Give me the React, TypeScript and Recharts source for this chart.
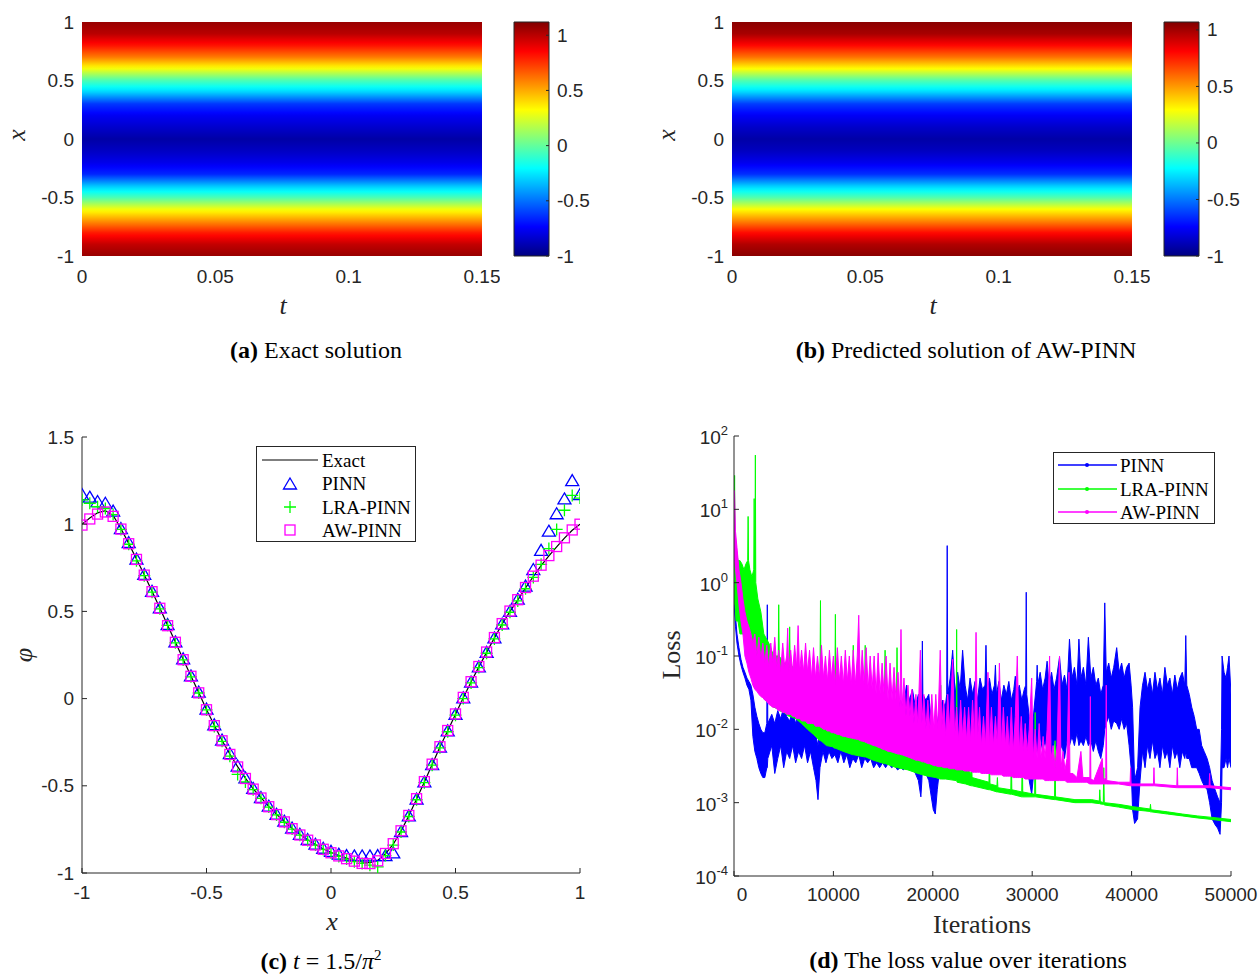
import React from 'react';
import { ComposedChart, Line, Area, XAxis, YAxis, ReferenceArea } from 'recharts';

// (a), (b): u(t, x) is practically constant along t, so one profile over x per map
const hmX = [1, 0.9, 0.8, 0.7, 0.6, 0.5, 0.4, 0.3, 0.2, 0.1, 0, -0.1, -0.2, -0.3, -0.4, -0.5, -0.6, -0.7, -0.8, -0.9, -1];
const exactU = [1.07, 1.0, 0.82, 0.6, 0.3, -0.05, -0.3, -0.62, -0.76, -0.84, -0.92, -0.86, -0.78, -0.66, -0.33, -0.05, 0.3, 0.55, 0.8, 0.98, 1.07];
const awU = [1.05, 0.99, 0.8, 0.58, 0.29, -0.06, -0.31, -0.62, -0.76, -0.85, -0.92, -0.87, -0.78, -0.65, -0.33, -0.06, 0.29, 0.54, 0.79, 0.97, 1.05];
const tTicks = [0, 0.05, 0.1, 0.15];
const xTicks = [-1, -0.5, 0, 0.5, 1];
const cbTicks = [-1, -0.5, 0, 0.5, 1];

// (c): slice at t = 1.5/pi^2
const xs = [-1, -0.96875, -0.9375, -0.90625, -0.875, -0.84375, -0.8125, -0.78125, -0.75, -0.71875, -0.6875, -0.65625, -0.625, -0.59375, -0.5625, -0.53125, -0.5, -0.46875, -0.4375, -0.40625, -0.375, -0.34375, -0.3125, -0.28125, -0.25, -0.21875, -0.1875, -0.15625, -0.125, -0.09375, -0.0625, -0.03125, 0, 0.03125, 0.0625, 0.09375, 0.125, 0.15625, 0.1875, 0.21875, 0.25, 0.28125, 0.3125, 0.34375, 0.375, 0.40625, 0.4375, 0.46875, 0.5, 0.53125, 0.5625, 0.59375, 0.625, 0.65625, 0.6875, 0.71875, 0.75, 0.78125, 0.8125, 0.84375, 0.875, 0.90625, 0.9375, 0.96875, 1];
const exact = [1.0, 1.036, 1.065, 1.078, 1.05, 0.975, 0.89, 0.8, 0.71, 0.615, 0.52, 0.42, 0.325, 0.225, 0.13, 0.035, -0.062, -0.153, -0.24, -0.318, -0.39, -0.456, -0.517, -0.568, -0.618, -0.663, -0.705, -0.744, -0.78, -0.81, -0.837, -0.862, -0.882, -0.9, -0.915, -0.928, -0.937, -0.94, -0.928, -0.89, -0.835, -0.76, -0.672, -0.576, -0.478, -0.378, -0.278, -0.185, -0.09, 0.005, 0.095, 0.182, 0.265, 0.348, 0.428, 0.5, 0.565, 0.635, 0.7, 0.763, 0.818, 0.87, 0.92, 0.965, 1.0];
const pinn = [1.17, 1.155, 1.13, 1.12, 1.075, 0.975, 0.895, 0.8, 0.712, 0.615, 0.52, 0.425, 0.325, 0.228, 0.13, 0.037, -0.06, -0.15, -0.238, -0.315, -0.387, -0.455, -0.515, -0.567, -0.617, -0.663, -0.703, -0.742, -0.778, -0.808, -0.835, -0.858, -0.876, -0.892, -0.9, -0.902, -0.902, -0.902, -0.9, -0.9, -0.885, -0.762, -0.672, -0.576, -0.478, -0.378, -0.278, -0.185, -0.09, 0.005, 0.095, 0.182, 0.265, 0.348, 0.428, 0.5, 0.57, 0.645, 0.74, 0.85, 0.96, 1.06, 1.145, 1.25, 1.17];
const lra = [1.14, 1.12, 1.1, 1.09, 1.055, 0.97, 0.885, 0.79, 0.705, 0.61, 0.515, 0.42, 0.32, 0.222, 0.125, 0.032, -0.065, -0.16, -0.245, -0.33, -0.435, -0.478, -0.522, -0.572, -0.622, -0.667, -0.709, -0.748, -0.783, -0.813, -0.84, -0.865, -0.885, -0.905, -0.92, -0.935, -0.945, -0.955, -0.965, -0.9, -0.84, -0.765, -0.676, -0.58, -0.482, -0.382, -0.282, -0.19, -0.095, 0.0, 0.09, 0.178, 0.26, 0.342, 0.422, 0.495, 0.56, 0.63, 0.695, 0.77, 0.86, 0.97, 1.08, 1.165, 1.15];
const aw = [0.995, 1.03, 1.058, 1.07, 1.045, 0.972, 0.888, 0.798, 0.708, 0.613, 0.518, 0.418, 0.323, 0.223, 0.128, 0.033, -0.064, -0.155, -0.242, -0.32, -0.392, -0.458, -0.519, -0.57, -0.62, -0.665, -0.707, -0.746, -0.782, -0.812, -0.839, -0.864, -0.884, -0.902, -0.918, -0.932, -0.945, -0.946, -0.93, -0.888, -0.832, -0.758, -0.67, -0.574, -0.476, -0.376, -0.276, -0.183, -0.088, 0.007, 0.097, 0.184, 0.267, 0.35, 0.43, 0.502, 0.567, 0.637, 0.702, 0.765, 0.82, 0.872, 0.922, 0.967, 1.0];
const phiTicks = [-1, -0.5, 0, 0.5, 1, 1.5];

// (d): the loss curves are too dense to see single steps, so each is kept as
// [iteration, lowest, highest] over short stretches (spikes included)
const pinnLoss = [[0, 0.55, 0.7], [150, 0.25, 0.35], [300, 0.15, 0.2], [500, 0.1, 0.13], [700, 0.075, 0.09], [900, 0.06, 0.07], [1100, 0.05, 0.06], [1300, 0.04, 0.05], [1500, 0.035, 0.045], [1700, 0.025, 0.04], [1900, 0.008, 0.03], [2100, 0.005, 0.02], [2300, 0.004, 0.015], [2500, 0.003, 0.012], [2700, 0.0025, 0.01], [2900, 0.0022, 0.009], [3100, 0.0022, 0.009], [3300, 0.003, 0.012], [3350, 0.003, 0.5], [3400, 0.004, 0.012],
  [3800, 0.006, 0.016], [4100, 0.0025, 0.012], [4400, 0.004, 0.018], [4700, 0.006, 0.014], [5000, 0.003, 0.02], [5300, 0.005, 0.015], [5600, 0.004, 0.013], [5900, 0.006, 0.018], [6200, 0.0035, 0.012], [6500, 0.005, 0.016], [6800, 0.004, 0.014], [7100, 0.006, 0.015], [7400, 0.0035, 0.013], [7700, 0.005, 0.012], [8000, 0.003, 0.01], [8250, 0.002, 0.008], [8450, 0.0011, 0.006], [8650, 0.003, 0.01],
  [8950, 0.005, 0.014], [9250, 0.0035, 0.012], [9550, 0.005, 0.015], [9850, 0.004, 0.011], [10150, 0.0045, 0.02], [10450, 0.0035, 0.013], [10750, 0.005, 0.016], [11050, 0.0035, 0.012], [11350, 0.0045, 0.014], [11650, 0.003, 0.011], [11950, 0.004, 0.015], [12250, 0.0035, 0.012], [12550, 0.0045, 0.014], [12850, 0.003, 0.011], [13150, 0.004, 0.013], [13450, 0.0035, 0.012], [13750, 0.004, 0.015], [14050, 0.003, 0.011], [14350, 0.0035, 0.014], [14650, 0.003, 0.012], [14950, 0.0035, 0.013], [15250, 0.003, 0.011], [15550, 0.0035, 0.014], [15850, 0.003, 0.012], [16150, 0.0032, 0.015], [16450, 0.0028, 0.018],
  [16750, 0.003, 0.025], [17050, 0.0028, 0.02], [17350, 0.0032, 0.04], [17650, 0.0028, 0.025], [17950, 0.003, 0.035], [18250, 0.0025, 0.02], [18550, 0.002, 0.03], [18800, 0.0012, 0.02], [18900, 0.002, 0.03], [18950, 0.003, 0.16], [19000, 0.003, 0.03], [19300, 0.0025, 0.025], [19600, 0.002, 0.03], [19850, 0.0012, 0.012], [20050, 0.0008, 0.008], [20250, 0.0007, 0.005], [20450, 0.0015, 0.012], [20700, 0.003, 0.02], [21000, 0.003, 0.025], [21250, 0.004, 0.02], [21400, 0.004, 0.03], [21450, 0.005, 3.2], [21500, 0.005, 0.03],
  [21750, 0.007, 0.05], [22000, 0.005, 0.12], [22250, 0.004, 0.03], [22500, 0.008, 0.06], [22750, 0.005, 0.035], [23000, 0.004, 0.12], [23250, 0.006, 0.04], [23500, 0.004, 0.025], [23750, 0.007, 0.05], [24000, 0.005, 0.03], [24250, 0.004, 0.045], [24500, 0.006, 0.025], [24750, 0.004, 0.05], [25000, 0.007, 0.035], [25250, 0.005, 0.04], [25350, 0.004, 0.14], [25450, 0.005, 0.03], [25700, 0.004, 0.05], [25950, 0.006, 0.03], [26200, 0.004, 0.04], [26300, 0.004, 0.075], [26400, 0.005, 0.03], [26650, 0.007, 0.045], [26900, 0.004, 0.025], [27150, 0.005, 0.04], [27400, 0.004, 0.03], [27650, 0.006, 0.045], [27900, 0.004, 0.025], [28150, 0.005, 0.035], [28300, 0.005, 0.053], [28450, 0.004, 0.03], [28700, 0.006, 0.04], [28950, 0.004, 0.025], [29200, 0.005, 0.035], [29350, 0.004, 0.04], [29400, 0.004, 0.74], [29450, 0.003, 0.03], [29700, 0.002, 0.015], [29950, 0.0013, 0.008], [30200, 0.003, 0.02],
  [30450, 0.006, 0.045], [30500, 0.005, 0.075], [30550, 0.005, 0.04], [30800, 0.008, 0.06], [31050, 0.005, 0.035], [31300, 0.007, 0.05], [31500, 0.005, 0.085], [31700, 0.006, 0.04], [31950, 0.004, 0.06], [32200, 0.007, 0.035], [32450, 0.005, 0.05], [32750, 0.005, 0.097], [33000, 0.006, 0.04], [33250, 0.004, 0.055], [33500, 0.007, 0.035], [33750, 0.006, 0.17], [34000, 0.008, 0.05], [34250, 0.006, 0.07], [34500, 0.009, 0.04], [34700, 0.006, 0.17], [34900, 0.007, 0.05], [35150, 0.006, 0.07], [35400, 0.008, 0.04], [35650, 0.006, 0.18], [35900, 0.007, 0.05], [36150, 0.005, 0.07], [36400, 0.007, 0.04], [36650, 0.005, 0.05], [36900, 0.004, 0.03], [37150, 0.006, 0.04], [37300, 0.01, 0.53], [37450, 0.012, 0.06],
  [37700, 0.015, 0.08], [37950, 0.01, 0.05], [38200, 0.013, 0.07], [38500, 0.012, 0.13], [38750, 0.01, 0.06], [39000, 0.014, 0.08], [39250, 0.01, 0.05], [39500, 0.012, 0.07], [39750, 0.006, 0.08], [39950, 0.003, 0.04], [40100, 0.0008, 0.02], [40300, 0.00052, 0.002], [40600, 0.0006, 0.003], [40850, 0.002, 0.02],
  [41100, 0.005, 0.04], [41350, 0.003, 0.06], [41600, 0.006, 0.035], [41850, 0.004, 0.05], [42100, 0.007, 0.03], [42350, 0.004, 0.06], [42600, 0.005, 0.035], [42850, 0.003, 0.05], [43100, 0.006, 0.03], [43350, 0.004, 0.07], [43600, 0.005, 0.04], [43850, 0.003, 0.05], [44100, 0.006, 0.03], [44350, 0.004, 0.055], [44600, 0.005, 0.035], [44850, 0.003, 0.05], [45100, 0.005, 0.06], [45350, 0.004, 0.04], [45450, 0.005, 0.19], [45550, 0.004, 0.04], [45800, 0.004, 0.03], [46050, 0.003, 0.02], [46300, 0.003, 0.015], [46550, 0.003, 0.01], [46800, 0.0025, 0.01], [47050, 0.002, 0.006], [47300, 0.0017, 0.005], [47600, 0.0015, 0.004], [47850, 0.001, 0.003], [48100, 0.0006, 0.002], [48400, 0.0005, 0.0015], [48650, 0.00045, 0.0012], [48900, 0.00037, 0.001], [49050, 0.001, 0.01], [49100, 0.003, 0.1], [49300, 0.003, 0.06], [49500, 0.004, 0.05], [49650, 0.003, 0.07], [49800, 0.004, 0.1], [50000, 0.003, 0.03]];
const lraLoss = [[0, 2, 5], [30, 1, 10], [60, 0.5, 29], [100, 0.5, 5], [200, 0.3, 3], [400, 0.3, 2], [600, 0.2, 2], [800, 0.2, 1.8], [1000, 0.2, 1.5], [1200, 0.15, 1.8], [1380, 0.15, 2], [1420, 0.15, 8], [1460, 0.15, 2], [1600, 0.12, 1.5], [1800, 0.1, 1.2], [1990, 0.1, 1.5], [2030, 0.1, 14], [2070, 0.1, 1.5], [2110, 0.1, 1.5], [2150, 0.1, 55], [2190, 0.1, 1], [2400, 0.06, 0.6], [2700, 0.035, 0.4], [3000, 0.026, 0.2], [3500, 0.023, 0.15], [4000, 0.02, 0.1], [4450, 0.019, 0.1], [4500, 0.019, 0.5], [4550, 0.018, 0.1], [5000, 0.017, 0.08], [5550, 0.015, 0.08], [5600, 0.015, 0.25], [5650, 0.015, 0.08], [6200, 0.014, 0.06], [6800, 0.012, 0.05], [7400, 0.01, 0.05], [8000, 0.0085, 0.05], [8650, 0.007, 0.05], [8700, 0.007, 0.57], [8750, 0.007, 0.05], [9300, 0.006, 0.04], [9900, 0.0058, 0.04], [10150, 0.0055, 0.04], [10200, 0.0055, 0.37], [10250, 0.0055, 0.04], [11000, 0.005, 0.03], [11950, 0.0045, 0.03], [12000, 0.0045, 0.14], [12050, 0.0045, 0.03], [13150, 0.0042, 0.03], [13200, 0.0042, 0.14], [13250, 0.0042, 0.03], [14000, 0.0038, 0.03], [15150, 0.0034, 0.03], [15200, 0.0034, 0.12], [15250, 0.0034, 0.02], [16350, 0.003, 0.02], [16400, 0.003, 0.13], [16450, 0.003, 0.02], [17500, 0.0028, 0.015], [18500, 0.0025, 0.01], [19500, 0.0023, 0.01], [20300, 0.0022, 0.008], [20750, 0.0021, 0.008], [20800, 0.0021, 0.04], [20850, 0.0021, 0.006], [21300, 0.0021, 0.006], [22350, 0.002, 0.004], [22400, 0.002, 0.23], [22450, 0.0019, 0.004], [23300, 0.0018, 0.003], [23850, 0.0017, 0.0025], [23900, 0.0017, 0.004], [23950, 0.0017, 0.0022], [25650, 0.0015, 0.0019], [25700, 0.0015, 0.005], [25750, 0.0015, 0.0018], [26450, 0.0014, 0.0017], [26500, 0.0014, 0.0022], [26550, 0.0014, 0.0016], [27850, 0.0013, 0.0015], [27900, 0.0013, 0.0055], [27950, 0.0013, 0.0015], [28950, 0.0012, 0.0014], [29000, 0.0012, 0.005], [29050, 0.0012, 0.0014], [30250, 0.0012, 0.0013], [30300, 0.0012, 0.017], [30350, 0.0012, 0.0013], [32250, 0.0011, 0.0012], [32300, 0.0011, 0.007], [32350, 0.0011, 0.0012], [34300, 0.001, 0.0011], [36000, 0.001, 0.0011], [36750, 0.00097, 0.00105], [36800, 0.00097, 0.0015], [36850, 0.00096, 0.00104], [37150, 0.00095, 0.001], [37200, 0.00095, 0.003], [37250, 0.00093, 0.001], [38700, 0.00087, 0.00095], [40200, 0.0008, 0.00088], [41850, 0.00076, 0.00082], [41900, 0.00075, 0.00095], [41950, 0.00075, 0.0008], [43600, 0.0007, 0.00075], [45100, 0.00066, 0.0007], [46600, 0.00062, 0.00066], [48100, 0.00059, 0.00063], [50000, 0.00055, 0.00059]];
const awLoss = [[0, 2, 5], [50, 2, 18], [150, 1.5, 5], [300, 1, 3], [500, 0.5, 1.5], [700, 0.3, 1], [900, 0.2, 0.6], [1100, 0.1, 0.4], [1300, 0.08, 0.3], [1500, 0.06, 0.25], [1700, 0.05, 0.2], [1900, 0.04, 0.15], [2100, 0.035, 0.2], [2300, 0.033, 0.1], [2500, 0.03, 0.18], [2700, 0.028, 0.09], [2900, 0.027, 0.15], [3100, 0.025, 0.08], [3300, 0.024, 0.14], [3500, 0.022, 0.07], [3700, 0.021, 0.15], [3900, 0.02, 0.08], [4100, 0.02, 0.18], [4300, 0.019, 0.07], [4500, 0.018, 0.12], [4700, 0.018, 0.06], [4900, 0.017, 0.15], [5100, 0.017, 0.07], [5300, 0.016, 0.1], [5400, 0.016, 0.24], [5500, 0.016, 0.06], [5700, 0.016, 0.12], [5900, 0.015, 0.06], [6100, 0.015, 0.14], [6300, 0.014, 0.07], [6450, 0.014, 0.26], [6600, 0.014, 0.06], [6800, 0.013, 0.12], [7000, 0.013, 0.06], [7200, 0.013, 0.15], [7400, 0.012, 0.06], [7600, 0.012, 0.12], [7800, 0.012, 0.05], [8000, 0.012, 0.13], [8200, 0.011, 0.05], [8400, 0.011, 0.1], [8600, 0.011, 0.05], [8800, 0.0105, 0.14], [9000, 0.01, 0.05], [9200, 0.01, 0.1], [9400, 0.0095, 0.045], [9600, 0.0095, 0.12], [9800, 0.009, 0.05], [10000, 0.009, 0.1], [10200, 0.0088, 0.04], [10400, 0.0085, 0.13], [10600, 0.0085, 0.045], [10800, 0.0082, 0.1], [11000, 0.008, 0.04], [11200, 0.008, 0.12], [11400, 0.0078, 0.045], [11600, 0.0077, 0.1], [11800, 0.0076, 0.04], [12000, 0.0075, 0.12], [12200, 0.0074, 0.04], [12400, 0.0073, 0.1], [12550, 0.0072, 0.36], [12700, 0.007, 0.04], [12900, 0.0069, 0.12], [13100, 0.0068, 0.04], [13300, 0.0066, 0.13], [13500, 0.0064, 0.035], [13700, 0.0063, 0.1], [13900, 0.0061, 0.035], [14100, 0.006, 0.1], [14300, 0.0059, 0.03], [14500, 0.0057, 0.11], [14700, 0.0056, 0.03], [14900, 0.0054, 0.08], [15100, 0.0053, 0.03], [15300, 0.0052, 0.1], [15500, 0.005, 0.025], [15700, 0.005, 0.08], [15900, 0.0049, 0.025], [16100, 0.0048, 0.07], [16300, 0.0047, 0.025], [16500, 0.0046, 0.06], [16700, 0.0046, 0.02], [16800, 0.0045, 0.23], [16900, 0.0045, 0.02], [17100, 0.0044, 0.05], [17300, 0.0043, 0.015], [17500, 0.0042, 0.04], [17700, 0.0041, 0.015], [17900, 0.004, 0.035], [18100, 0.0039, 0.012], [18300, 0.0038, 0.03], [18500, 0.0038, 0.012], [18750, 0.0037, 0.12], [18900, 0.0036, 0.012], [19100, 0.0036, 0.03], [19300, 0.0035, 0.01], [19500, 0.0034, 0.025], [19700, 0.0034, 0.01], [19900, 0.0033, 0.03], [20100, 0.0032, 0.01], [20300, 0.0032, 0.03], [20500, 0.0031, 0.01], [20750, 0.0031, 0.12], [20900, 0.0031, 0.01], [21100, 0.003, 0.025], [21300, 0.003, 0.008], [21500, 0.003, 0.03], [21700, 0.0029, 0.01], [22000, 0.0029, 0.09], [22200, 0.0029, 0.008], [22400, 0.0028, 0.02], [22600, 0.0028, 0.007], [22800, 0.0028, 0.025], [23000, 0.0028, 0.008], [23200, 0.0027, 0.02], [23400, 0.0027, 0.007], [23600, 0.0027, 0.02], [23800, 0.0027, 0.007], [24000, 0.0026, 0.025], [24200, 0.0026, 0.007], [24350, 0.0026, 0.21], [24500, 0.0026, 0.007], [24700, 0.0026, 0.02], [24900, 0.0025, 0.006], [25100, 0.0025, 0.015], [25300, 0.0025, 0.006], [25550, 0.0025, 0.06], [25700, 0.0025, 0.006], [25900, 0.0024, 0.02], [26100, 0.0024, 0.006], [26300, 0.0024, 0.015], [26500, 0.0024, 0.006], [26700, 0.0024, 0.08], [26900, 0.0024, 0.006], [27100, 0.0023, 0.02], [27300, 0.0023, 0.006], [27500, 0.0023, 0.015], [27700, 0.0023, 0.005], [27900, 0.0023, 0.02], [28100, 0.0022, 0.005], [28300, 0.0022, 0.015], [28500, 0.0022, 0.1], [28700, 0.0022, 0.005], [28900, 0.0022, 0.015], [29100, 0.0022, 0.005], [29300, 0.0021, 0.012], [29500, 0.0021, 0.005], [29700, 0.0021, 0.01], [29950, 0.0021, 0.05], [30100, 0.0021, 0.004], [30300, 0.0021, 0.01], [30500, 0.0021, 0.004], [30700, 0.0021, 0.012], [30900, 0.0021, 0.004], [31100, 0.0021, 0.008], [31300, 0.002, 0.004], [31500, 0.002, 0.01], [31750, 0.002, 0.1], [31900, 0.002, 0.004], [32100, 0.002, 0.006], [32300, 0.002, 0.003], [32500, 0.002, 0.006], [32750, 0.002, 0.1], [32900, 0.002, 0.003], [33100, 0.002, 0.005], [33300, 0.002, 0.0028], [33500, 0.0019, 0.004], [33700, 0.0019, 0.06], [33800, 0.0019, 0.0025], [34100, 0.0019, 0.0025], [34500, 0.0019, 0.0022], [34900, 0.0019, 0.005], [35100, 0.0019, 0.0022], [35500, 0.0019, 0.0022], [35800, 0.0018, 0.0022], [35850, 0.0018, 0.028], [35900, 0.0018, 0.0021], [36200, 0.0018, 0.002], [37050, 0.0018, 0.004], [37150, 0.0018, 0.002], [37400, 0.0018, 0.0022], [37450, 0.0018, 0.04], [37500, 0.0018, 0.002], [38700, 0.0018, 0.0019], [39850, 0.0017, 0.0019], [39900, 0.0017, 0.003], [39950, 0.0017, 0.0018], [42200, 0.0017, 0.0018], [42250, 0.0017, 0.003], [42300, 0.0017, 0.0018], [44550, 0.0016, 0.0017], [44600, 0.0016, 0.003], [44650, 0.0016, 0.0017], [47800, 0.0016, 0.0017], [47850, 0.0016, 0.0025], [47900, 0.0016, 0.0017], [50000, 0.0015, 0.0016]];
const iterTicks = [0, 10000, 20000, 30000, 40000, 50000];
const decTicks = [1e-4, 1e-3, 1e-2, 1e-1, 1, 10, 100];
const minorTicks = [2e-4, 3e-4, 4e-4, 5e-4, 6e-4, 7e-4, 8e-4, 9e-4, 2e-3, 3e-3, 4e-3, 5e-3, 6e-3, 7e-3, 8e-3, 9e-3, 2e-2, 3e-2, 4e-2, 5e-2, 6e-2, 7e-2, 8e-2, 9e-2, 0.2, 0.3, 0.4, 0.5, 0.6, 0.7, 0.8, 0.9, 2, 3, 4, 5, 6, 7, 8, 9, 20, 30, 40, 50, 60, 70, 80, 90];

const AX = '#262626';
const SANS = '"Liberation Sans", Arial, sans-serif';
const SERIF = '"Liberation Serif", "Times New Roman", serif';
const BLUE = '#0000ff';
const GREEN = '#00ff00';
const MAGENTA = '#ff00ff';

const jet = (f: number) => {
  const c = (v: number) => Math.round(255 * Math.max(0, Math.min(1, v)));
  return `rgb(${c(1.5 - Math.abs(4 * f - 3))},${c(1.5 - Math.abs(4 * f - 2))},${c(1.5 - Math.abs(4 * f - 1))})`;
};

function heatStops(u: number[], cMax: number) {
  const col = (v: number) => jet((v + 1) / (cMax + 1));
  const stops: React.ReactElement[] = [];
  hmX.forEach((x, i) => {
    stops.push(<stop key={`s${i}`} offset={(1 - x) / 2} stopColor={col(u[i])} />);
    if (i < hmX.length - 1) {
      // extra stops so the colours follow the jet map instead of blending in RGB
      for (let s = 1; s < 4; s++) {
        const w = s / 4;
        const xm = x + (hmX[i + 1] - x) * w;
        const um = u[i] + (u[i + 1] - u[i]) * w;
        stops.push(<stop key={`s${i}-${s}`} offset={(1 - xm) / 2} stopColor={col(um)} />);
      }
    }
  });
  return stops;
}

const fmt = (v: number) => String(v);

// tick components: labels plus inward tick marks
const BottomTick = ({ x, y, payload, oy = 26, len = 0, label = true, shift0 = 0 }: any) => (
  <g>
    {len > 0 && <line x1={x} x2={x} y1={y} y2={y - len} stroke={AX} strokeWidth={1} />}
    {label && (
      <text x={x + (payload.value === 0 ? shift0 : 0)} y={y + oy} textAnchor="middle" fontFamily={SANS} fontSize={19} fill={AX}>
        {fmt(payload.value)}
      </text>
    )}
  </g>
);
const LeftTick = ({ x, y, payload, len = 0, label = true }: any) => (
  <g>
    {len > 0 && <line x1={x} x2={x + len} y1={y} y2={y} stroke={AX} strokeWidth={1} />}
    {label && (
      <text x={x - 8} y={y + 6.5} textAnchor="end" fontFamily={SANS} fontSize={19} fill={AX}>
        {fmt(payload.value)}
      </text>
    )}
  </g>
);
const RightTick = ({ x, y, payload, len = 5, label = false }: any) => (
  <g>
    {len > 0 && <line x1={x} x2={x - len} y1={y} y2={y} stroke={AX} strokeWidth={1} />}
    {label && (
      <text x={x + 8} y={y + 6.5} textAnchor="start" fontFamily={SANS} fontSize={19} fill={AX}>
        {fmt(payload.value)}
      </text>
    )}
  </g>
);
const TopTick = ({ x, y, len = 5 }: any) => <line x1={x} x2={x} y1={y} y2={y + len} stroke={AX} strokeWidth={1} />;

const PowTick = ({ x, y, payload }: any) => {
  const e = Math.round(Math.log10(payload.value));
  return (
    <g>
      <line x1={x} x2={x + 5} y1={y} y2={y} stroke={AX} strokeWidth={1} />
      <text x={x - 6} y={y + 8} textAnchor="end" fontFamily={SANS} fontSize={19} fill={AX}>
        10<tspan dy={-9} fontSize={13}>{e}</tspan>
      </text>
    </g>
  );
};
const MinorTick = ({ x, y }: any) => <line x1={x} x2={x + 3} y1={y} y2={y} stroke={AX} strokeWidth={1} />;

const Tri = ({ cx, cy, c = BLUE }: any) => (
  <polygon points={`${cx},${cy - 6} ${cx + 6.5},${cy + 5} ${cx - 6.5},${cy + 5}`} fill="none" stroke={c} strokeWidth={1.3} />
);
const Plus = ({ cx, cy, c = GREEN }: any) => (
  <path d={`M${cx - 6},${cy}H${cx + 6}M${cx},${cy - 6}V${cy + 6}`} stroke={c} strokeWidth={1.3} fill="none" />
);
const Sq = ({ cx, cy, c = MAGENTA }: any) => (
  <rect x={cx - 5} y={cy - 5} width={10} height={10} fill="none" stroke={c} strokeWidth={1.3} />
);

const Txt = ({ x, y, size = 26, rotate = false, italic = false, font = SERIF, color = '#262626', children }: any) => (
  <div
    style={{
      position: 'absolute',
      left: x,
      top: y,
      transform: `translate(-50%, -50%)${rotate ? ' rotate(-90deg)' : ''}`,
      fontFamily: font,
      fontSize: size,
      fontStyle: italic ? 'italic' : 'normal',
      whiteSpace: 'nowrap',
      lineHeight: 1,
      color,
    }}
  >
    {children}
  </div>
);

function HeatMap({ left, id, cMax }: { left: number; id: string; cMax: number }) {
  return (
    <>
      <div style={{ position: 'absolute', left, top: 0 }}>
        <ComposedChart width={500} height={300} margin={{ top: 22, right: 18, bottom: 14, left: 32 }}>
          <XAxis type="number" dataKey="t" domain={[0, 0.15]} ticks={tTicks} interval={0} allowDataOverflow axisLine={false} tickLine={false} tickSize={0} tickMargin={0} height={30} tick={<BottomTick oy={27} />} />
          <YAxis type="number" dataKey="x" domain={[-1, 1]} ticks={xTicks} interval={0} allowDataOverflow axisLine={false} tickLine={false} tickSize={0} tickMargin={0} width={50} tick={<LeftTick />} />
          <ReferenceArea x1={0} x2={0.15} y1={-1} y2={1} fill={`url(#${id})`} fillOpacity={1} stroke="none" ifOverflow="visible" />
        </ComposedChart>
      </div>
      <div style={{ position: 'absolute', left: left + 500, top: 0 }}>
        <ComposedChart width={100} height={300} margin={{ top: 22, right: 11, bottom: 44, left: 14 }}>
          <XAxis type="number" dataKey="c" domain={[0, 1]} allowDataOverflow axisLine={false} tickLine={false} tick={false} height={0} />
          <YAxis orientation="right" type="number" dataKey="v" domain={[-1, cMax]} ticks={cbTicks} interval={0} allowDataOverflow axisLine={false} tickLine={false} tickSize={0} tickMargin={0} width={40} tick={<RightTick len={3} label />} />
          <ReferenceArea x1={0} x2={1} y1={-1} y2={cMax} fill="url(#jetBar)" fillOpacity={1} stroke={AX} strokeWidth={1} ifOverflow="visible" />
        </ComposedChart>
      </div>
    </>
  );
}

export default function App() {
  const cData = xs.map((x, i) => ({ x, exact: exact[i], pinn: pinn[i], lra: lra[i], aw: aw[i] }));
  const toBand = (a: number[][]) => a.map(([it, lo, hi]) => ({ it, band: [lo, hi] }));
  const jetKeys = [1, 0.875, 0.625, 0.375, 0.125, 0];

  return (
    <div style={{ position: 'absolute', left: 0, top: 0, width: 1259, height: 974, background: '#fff', overflow: 'hidden' }}>
      <svg width={0} height={0} style={{ position: 'absolute' }}>
        <defs>
          <linearGradient id="heatA" x1="0" y1="0" x2="0" y2="1">{heatStops(exactU, 1.12)}</linearGradient>
          <linearGradient id="heatB" x1="0" y1="0" x2="0" y2="1">{heatStops(awU, 1.07)}</linearGradient>
          <linearGradient id="jetBar" x1="0" y1="0" x2="0" y2="1">
            {jetKeys.map((f) => (
              <stop key={f} offset={1 - f} stopColor={jet(f)} />
            ))}
          </linearGradient>
        </defs>
      </svg>

      <HeatMap left={0} id="heatA" cMax={1.12} />
      <HeatMap left={650} id="heatB" cMax={1.07} />
      <Txt x={283} y={306} italic>t</Txt>
      <Txt x={17} y={135} italic rotate>x</Txt>
      <Txt x={933} y={306} italic>t</Txt>
      <Txt x={667} y={135} italic rotate>x</Txt>
      <Txt x={316} y={350} size={24} color="#000"><b>(a)</b> Exact solution</Txt>
      <Txt x={966} y={350} size={24} color="#000"><b>(b)</b> Predicted solution of AW-PINN</Txt>

      {/* (c) */}
      <div style={{ position: 'absolute', left: 0, top: 420 }}>
        <ComposedChart width={600} height={500} data={cData} margin={{ top: 17, right: 20, bottom: 17, left: 32 }}>
          <XAxis dataKey="x" type="number" domain={[-1, 1]} ticks={xTicks} interval={0} allowDataOverflow stroke={AX} tickLine={false} tickSize={0} tickMargin={0} height={30} tick={<BottomTick oy={26} len={5} />} />
          <XAxis xAxisId="top" orientation="top" type="number" domain={[-1, 1]} ticks={xTicks} interval={0} allowDataOverflow stroke={AX} tickLine={false} tickSize={0} tickMargin={0} height={0} tick={<TopTick />} />
          <YAxis type="number" domain={[-1, 1.5]} ticks={phiTicks} interval={0} allowDataOverflow stroke={AX} tickLine={false} tickSize={0} tickMargin={0} width={50} tick={<LeftTick len={5} />} />
          <YAxis yAxisId="right" orientation="right" type="number" domain={[-1, 1.5]} ticks={phiTicks} interval={0} allowDataOverflow stroke={AX} tickLine={false} tickSize={0} tickMargin={0} width={0} tick={<RightTick />} />
          <Line dataKey="exact" stroke="#000" strokeWidth={1.2} dot={false} isAnimationActive={false} />
          <Line dataKey="pinn" stroke="none" isAnimationActive={false} dot={(p: any) => <Tri key={`p${p.index}`} cx={p.cx} cy={p.cy} />} />
          <Line dataKey="lra" stroke="none" isAnimationActive={false} dot={(p: any) => <Plus key={`l${p.index}`} cx={p.cx} cy={p.cy} />} />
          <Line dataKey="aw" stroke="none" isAnimationActive={false} dot={(p: any) => <Sq key={`a${p.index}`} cx={p.cx} cy={p.cy} />} />
        </ComposedChart>
      </div>
      <div style={{ position: 'absolute', left: 256, top: 446, width: 160, height: 96, border: `1px solid ${AX}`, background: '#fff', boxSizing: 'border-box' }}>
        <svg width={160} height={96} style={{ position: 'absolute', left: -1, top: -1 }}>
          <line x1={6} x2={62} y1={14} y2={14} stroke="#000" strokeWidth={1.2} />
          <Tri cx={34} cy={38} />
          <Plus cx={34} cy={61} />
          <Sq cx={34} cy={84} />
        </svg>
        {['Exact', 'PINN', 'LRA-PINN', 'AW-PINN'].map((s, i) => (
          <div key={s} style={{ position: 'absolute', left: 65, top: [14, 37, 61, 84][i] - 11, height: 22, lineHeight: '22px', fontFamily: SERIF, fontSize: 19, color: '#000' }}>
            {s}
          </div>
        ))}
      </div>
      <Txt x={332} y={922} italic>x</Txt>
      <Txt x={24} y={655} italic rotate>φ</Txt>
      <Txt x={321} y={960} size={24} color="#000">
        <b>(c)</b> <i>t</i> = 1.5/<i>π</i><sup style={{ fontSize: 15 }}>2</sup>
      </Txt>

      {/* (d) */}
      <div style={{ position: 'absolute', left: 650, top: 420 }}>
        <ComposedChart width={609} height={500} margin={{ top: 16, right: 28, bottom: 14, left: 24 }}>
          <XAxis dataKey="it" type="number" domain={[0, 50000]} ticks={iterTicks} interval={0} allowDataOverflow stroke={AX} tickLine={false} tickSize={0} tickMargin={0} height={30} tick={<BottomTick oy={25} len={5} shift0={8} />} />
          <XAxis xAxisId="top" orientation="top" type="number" domain={[0, 50000]} ticks={iterTicks} interval={0} allowDataOverflow stroke={AX} tickLine={false} tickSize={0} tickMargin={0} height={0} tick={<TopTick />} />
          <YAxis yAxisId="minor" type="number" scale="log" domain={[1e-4, 100]} ticks={minorTicks} interval={0} allowDataOverflow axisLine={false} tickLine={false} tickSize={0} tickMargin={0} width={0} tick={<MinorTick />} />
          <YAxis type="number" scale="log" domain={[1e-4, 100]} ticks={decTicks} interval={0} allowDataOverflow stroke={AX} tickLine={false} tickSize={0} tickMargin={0} width={60} tick={<PowTick />} />
          <YAxis yAxisId="right" orientation="right" type="number" scale="log" domain={[1e-4, 100]} ticks={[...decTicks, ...minorTicks]} interval={0} allowDataOverflow stroke={AX} tickLine={false} tickSize={0} tickMargin={0} width={0} tick={(p: any) => <RightTick key={p.index} {...p} len={decTicks.includes(p.payload.value) ? 5 : 3} />} />
          <Area data={toBand(pinnLoss)} dataKey="band" type="linear" stroke={BLUE} strokeWidth={1} fill={BLUE} fillOpacity={1} dot={false} activeDot={false} isAnimationActive={false} />
          <Area data={toBand(lraLoss)} dataKey="band" type="linear" stroke={GREEN} strokeWidth={1} fill={GREEN} fillOpacity={1} dot={false} activeDot={false} isAnimationActive={false} />
          <Area data={toBand(awLoss)} dataKey="band" type="linear" stroke={MAGENTA} strokeWidth={1} fill={MAGENTA} fillOpacity={1} dot={false} activeDot={false} isAnimationActive={false} />
        </ComposedChart>
      </div>
      <div style={{ position: 'absolute', left: 1053, top: 452, width: 162, height: 72, border: `1px solid ${AX}`, background: '#fff', boxSizing: 'border-box' }}>
        <svg width={162} height={72} style={{ position: 'absolute', left: -1, top: -1 }}>
          {[BLUE, GREEN, MAGENTA].map((c, i) => (
            <g key={c}>
              <line x1={5} x2={64} y1={[13, 37, 60][i]} y2={[13, 37, 60][i]} stroke={c} strokeWidth={1.5} />
              <circle cx={34} cy={[13, 37, 60][i]} r={2} fill={c} />
            </g>
          ))}
        </svg>
        {['PINN', 'LRA-PINN', 'AW-PINN'].map((s, i) => (
          <div key={s} style={{ position: 'absolute', left: 66, top: [13, 37, 60][i] - 11, height: 22, lineHeight: '22px', fontFamily: SERIF, fontSize: 19, color: '#000' }}>
            {s}
          </div>
        ))}
      </div>
      <Txt x={672} y={655} rotate>Loss</Txt>
      <Txt x={982} y={925}>Iterations</Txt>
      <Txt x={968} y={960} size={24} color="#000">
        <b>(d)</b> The loss value over iterations
      </Txt>
    </div>
  );
}
